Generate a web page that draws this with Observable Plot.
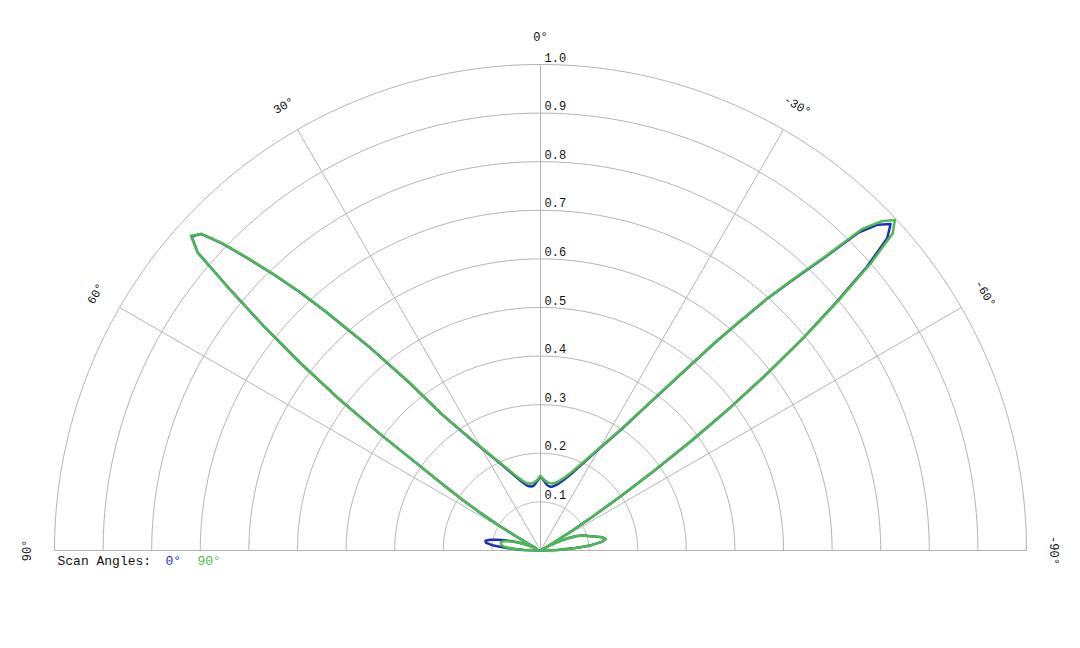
<!DOCTYPE html>
<html>
<head>
<meta charset="utf-8">
<script src="https://cdn.jsdelivr.net/npm/d3@7"></script>
<script src="https://cdn.jsdelivr.net/npm/@observablehq/plot@0.6"></script>
<style>
  html, body { margin: 0; padding: 0; background: #fff; }
  #chart svg { display: block; overflow: visible; }
</style>
</head>
<body>
<div id="chart"></div>
<script>
// Angles in degrees (positive = left of 0°, negative = right)
const angles = [-90,-88,-86,-85,-84,-82,-80,-78,-76,-74,-72,-70,-68,-66,-64,-62,-61,-60,-59,-58,-57,-56,-55,-54,-53,-52,-51,-50,-49,-48,-47,-46,-45,-44,-43,-42,-41,-40,-38,-36,-34,-32,-30,-27,-24,-21,-18,-15,-12,-10,-8,-6,-4,-2,0,2,4,6,8,10,12,15,18,21,24,27,30,32,34,36,38,40,41,42,43,44,45,46,47,48,49,50,51,52,53,54,55,56,57,58,59,60,61,62,64,66,68,70,72,74,76,78,80,82,84,86,88,90];

// Normalized pattern, scan angle 0°
const scan0 = [0,0.035,0.072,0.088,0.105,0.127,0.136,0.130,0.118,0.107,0.098,0.090,0.078,0.062,0.044,0.022,0.010,0.004,0.030,0.070,0.125,0.195,0.280,0.385,0.490,0.595,0.698,0.795,0.890,0.960,0.985,0.965,0.925,0.830,0.762,0.698,0.623,0.558,0.438,0.360,0.306,0.270,0.243,0.208,0.184,0.165,0.152,0.142,0.136,0.133,0.133,0.135,0.140,0.146,0.153,0.145,0.139,0.134,0.133,0.134,0.137,0.146,0.158,0.173,0.192,0.214,0.244,0.270,0.303,0.348,0.438,0.543,0.598,0.663,0.728,0.788,0.848,0.908,0.955,0.966,0.935,0.830,0.730,0.630,0.525,0.410,0.300,0.240,0.190,0.145,0.100,0.060,0.030,0.012,0.010,0.020,0.034,0.048,0.062,0.077,0.092,0.106,0.115,0.113,0.097,0.070,0.036,0];

// Normalized pattern, scan angle 90°
const scan90 = [0,0.035,0.072,0.088,0.105,0.127,0.136,0.130,0.118,0.107,0.098,0.090,0.078,0.062,0.044,0.022,0.010,0.004,0.030,0.070,0.125,0.195,0.280,0.385,0.490,0.595,0.700,0.800,0.900,0.975,0.997,0.975,0.935,0.835,0.765,0.700,0.625,0.560,0.440,0.362,0.308,0.272,0.245,0.212,0.188,0.170,0.157,0.148,0.142,0.140,0.140,0.141,0.144,0.148,0.153,0.147,0.143,0.140,0.139,0.140,0.142,0.150,0.161,0.176,0.194,0.216,0.246,0.272,0.305,0.350,0.440,0.545,0.600,0.665,0.730,0.790,0.850,0.910,0.955,0.968,0.935,0.830,0.730,0.630,0.525,0.410,0.300,0.240,0.190,0.145,0.100,0.060,0.030,0.012,0.010,0.020,0.033,0.045,0.058,0.070,0.078,0.082,0.083,0.081,0.075,0.060,0.032,0];

const ringTicks = [0.1,0.2,0.3,0.4,0.5,0.6,0.7,0.8,0.9,1.0];
const ringLabels = ["0.1","0.2","0.3","0.4","0.5","0.6","0.7","0.8","0.9","1.0"];
const angleTicks = [90,60,30,0,-30,-60,-90];
const angleLabels = ["90°","60°","30°","0°","-30°","-60°","-90°"];
const seriesNames = ["0°","90°"];
const seriesColors = ["#1c2fbf","#4cbb4c"];
const legendTitle = "Scan Angles:";

const rad = d => d * Math.PI / 180;
const px = (a, r) => -r * Math.sin(rad(a));
const py = (a, r) => r * Math.cos(rad(a));

const rows = [
  ...angles.map((a, i) => ({a, r: scan0[i], s: seriesNames[0]})),
  ...angles.map((a, i) => ({a, r: scan90[i], s: seriesNames[1]}))
];

const arcSteps = d3.range(-90, 90.5, 1);
const ringRows = ringTicks.flatMap(r => arcSteps.map(a => ({a, r})));
const labelR = 1.057;

const mono = "'Courier New', 'Liberation Mono', monospace";

const chart = Plot.plot({
  width: 1080,
  height: 648,
  marginLeft: 54,
  marginRight: 54,
  marginTop: 64,
  marginBottom: 98,
  x: {domain: [-1, 1], axis: null},
  y: {domain: [0, 1], axis: null},
  style: {fontFamily: mono, fontSize: "12px", background: "white", overflow: "visible"},
  marks: [
    // rings
    Plot.line(ringRows, {x: d => px(d.a, d.r), y: d => py(d.a, d.r), z: "r", stroke: "#b4b4b4", strokeWidth: 1}),
    // spokes
    Plot.link(angleTicks, {x1: 0, y1: 0, x2: a => px(a, 1), y2: a => py(a, 1), stroke: "#b4b4b4", strokeWidth: 1}),
    // ring labels
    Plot.text(ringTicks, {x: 0, y: r => r, text: (r, i) => ringLabels[i], textAnchor: "start", lineAnchor: "bottom", dx: 4, dy: -3, fill: "#111", fontSize: 12}),
    // angle labels
    Plot.text(angleTicks, {x: a => px(a, labelR), y: a => py(a, labelR), text: (a, i) => angleLabels[i], rotate: a => -a, textAnchor: "middle", lineAnchor: "middle", fill: "#111", fontSize: 12}),
    // pattern lines
    Plot.line(rows, {x: d => px(d.a, d.r), y: d => py(d.a, d.r), z: "s", stroke: d => d.s, strokeWidth: 2.5, strokeLinejoin: "round"}),
    // legend
    Plot.text([legendTitle], {frameAnchor: "bottom-left", dx: 3, dy: 10, text: d => d, textAnchor: "start", lineAnchor: "middle", fill: "#111", fontSize: 13}),
    Plot.text([seriesNames[0]], {frameAnchor: "bottom-left", dx: 111, dy: 10, text: d => d, textAnchor: "start", lineAnchor: "middle", fill: seriesColors[0], fontSize: 13}),
    Plot.text([seriesNames[1]], {frameAnchor: "bottom-left", dx: 143, dy: 10, text: d => d, textAnchor: "start", lineAnchor: "middle", fill: seriesColors[1], fontSize: 13})
  ],
  color: {domain: seriesNames, range: seriesColors}
});

document.getElementById("chart").appendChild(chart);
</script>
</body>
</html>
